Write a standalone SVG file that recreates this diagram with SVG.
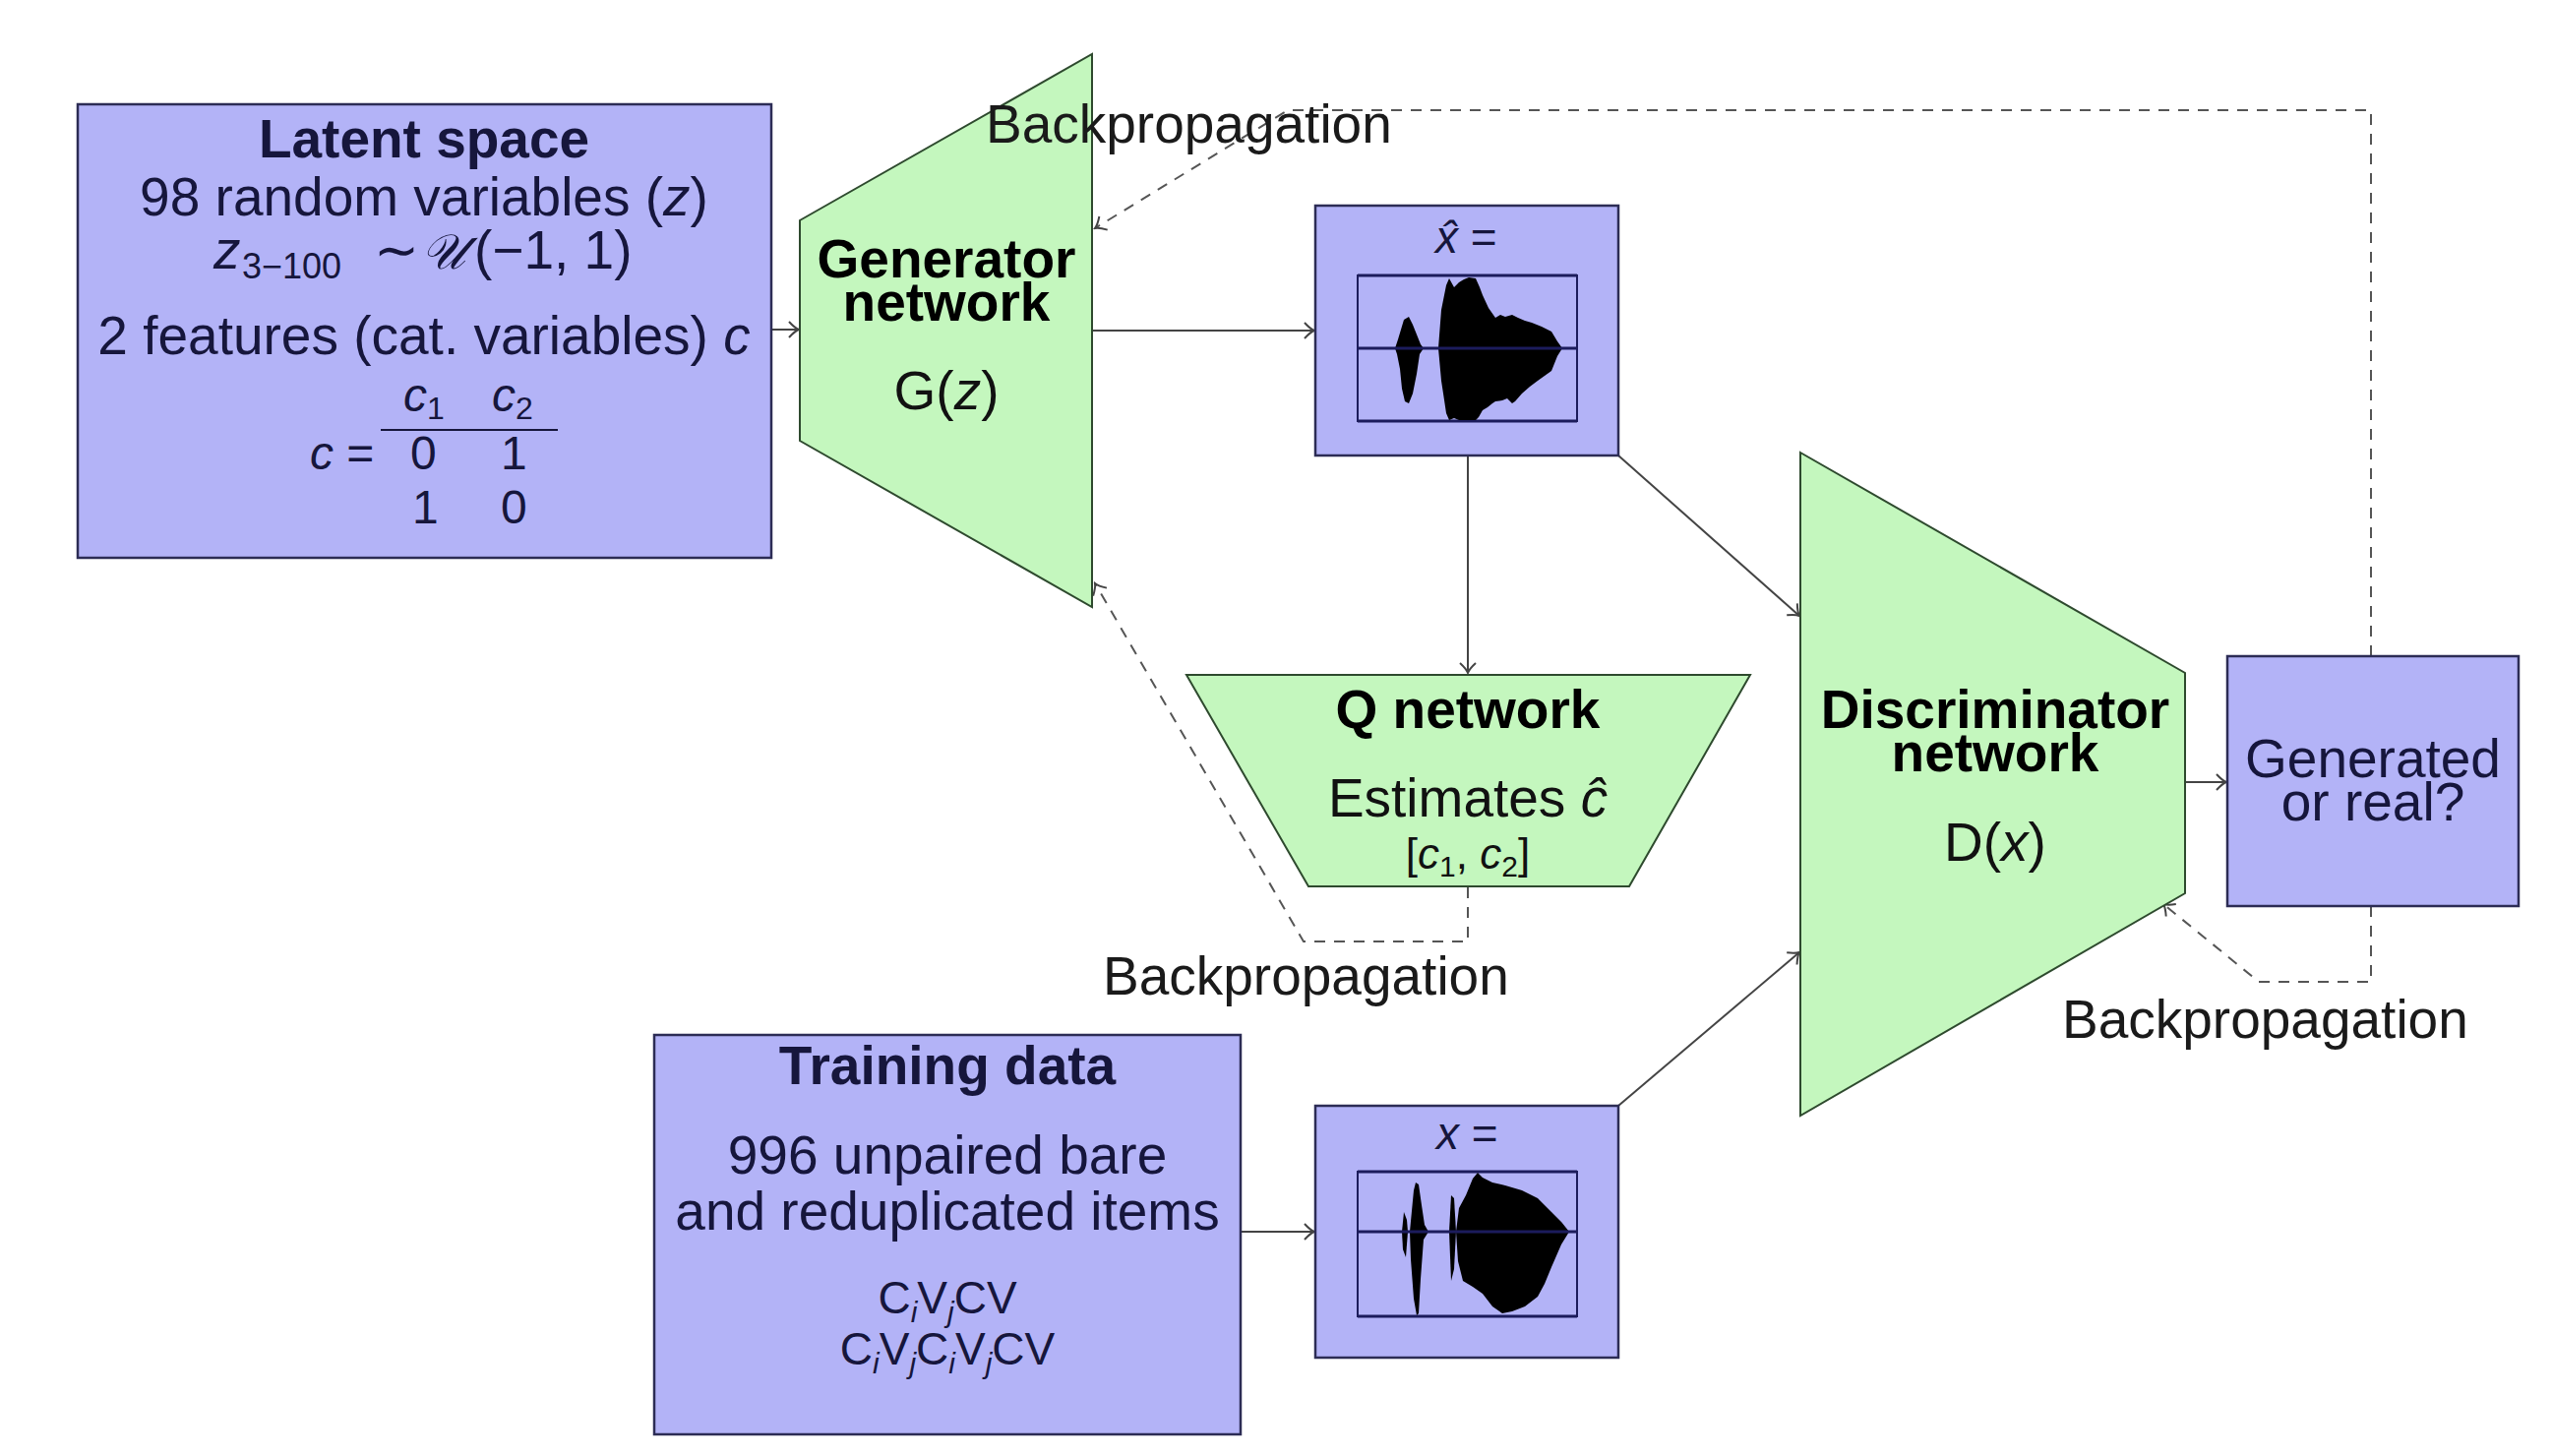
<svg xmlns="http://www.w3.org/2000/svg" width="2594" height="1480" viewBox="0 0 2594 1480">
<defs>
<marker id="arr" viewBox="-12 -10 14 20" refX="0" refY="0" markerWidth="14" markerHeight="20" markerUnits="userSpaceOnUse" orient="auto">
<path d="M -10 -8 Q -4 -1.5 0 0 Q -4 1.5 -10 8" fill="none" stroke="#444" stroke-width="2"/>
</marker>
</defs>
<style>
text{font-family:"Liberation Sans","DejaVu Sans",sans-serif;}
.box{fill:#b3b3f7;stroke:#2c2c55;stroke-width:2.5;}
.net{fill:#c4f7be;stroke:#2e4a2e;stroke-width:2;}
.t{font-size:55px;fill:#16163c;}
.tb{font-size:55px;font-weight:bold;fill:#16163c;}
.g{font-size:55px;fill:#111;}
.gb{font-size:55px;font-weight:bold;fill:#000;}
.m{font-size:48px;fill:#16163c;}
.i{font-style:italic;}
.sub{font-size:32px;}
.bp{font-size:55px;fill:#1a1a1a;}
.con{fill:none;stroke:#444;stroke-width:2;}
.dash{fill:none;stroke:#555;stroke-width:2;stroke-dasharray:11 9;}
.frame{fill:none;stroke:#1c1c5c;stroke-width:2;}
.axis{stroke:#1c1c5c;stroke-width:3;}
.wave{fill:#000;}
</style>
<rect width="2594" height="1480" fill="#fff"/>

<g id="connectors">
<line class="con" x1="784" y1="335" x2="812" y2="335" marker-end="url(#arr)"/>
<line class="con" x1="1110" y1="336" x2="1336" y2="336" marker-end="url(#arr)"/>
<line class="con" x1="1492" y1="463" x2="1492" y2="684" marker-end="url(#arr)"/>
<line class="con" x1="1645" y1="463" x2="1829" y2="626" marker-end="url(#arr)"/>
<line class="con" x1="1261" y1="1252" x2="1336" y2="1252" marker-end="url(#arr)"/>
<line class="con" x1="1645" y1="1124" x2="1829" y2="968" marker-end="url(#arr)"/>
<line class="con" x1="2221" y1="795" x2="2263" y2="795" marker-end="url(#arr)"/>
<polyline class="dash" points="2410,667 2410,112 1309,112 1113,232" marker-end="url(#arr)"/>
<polyline class="dash" points="1492,902 1492,957 1325,957 1113,593" marker-end="url(#arr)"/>
<polyline class="dash" points="2410,921 2410,998 2296,998 2199,919" marker-end="url(#arr)"/>
</g>

<g id="latent">
<rect class="box" x="79" y="106" width="705" height="461"/>
<text class="t" text-anchor="middle"><tspan class="tb" x="431" y="160">Latent space</tspan><tspan x="431" y="219">98 random variables (<tspan class="i">z</tspan>)</tspan></text>
<text class="t"><tspan class="i" x="217" y="273">z</tspan><tspan x="246" y="283" style="font-size:36px">3−100</tspan><tspan x="380" y="273">∼</tspan><tspan x="428" y="273" style="font-family:'DejaVu Serif','Liberation Serif',serif;font-style:italic;font-size:50px">𝒰</tspan><tspan x="482" y="273">(−1, 1)</tspan></text>
<text class="t" x="431" y="360" text-anchor="middle">2 features (cat. variables) <tspan class="i">c</tspan></text>
<text class="m"><tspan class="i" x="410" y="418">c</tspan><tspan class="sub" y="426">1</tspan><tspan class="i" x="500" y="418">c</tspan><tspan class="sub" y="426">2</tspan></text>
<line x1="387" y1="437" x2="567" y2="437" stroke="#16163c" stroke-width="2"/>
<text class="m"><tspan x="315" y="477"><tspan class="i">c</tspan> =</tspan><tspan x="417" y="477">0</tspan><tspan x="509" y="477">1</tspan></text>
<text class="m"><tspan x="419" y="532">1</tspan><tspan x="509" y="532">0</tspan></text>
</g>

<g id="generator">
<polygon class="net" points="813,224 1110,55 1110,617 813,448"/>
<text class="gb" text-anchor="middle"><tspan x="962" y="282">Generator</tspan><tspan x="962" y="326">network</tspan></text>
<text class="g" x="962" y="416" text-anchor="middle">G(<tspan class="i">z</tspan>)</text>
</g>

<g id="xhat">
<rect class="box" x="1337" y="209" width="308" height="254"/>
<text class="m" x="1459" y="257" style="font-size:46px"><tspan class="i">x̂</tspan> =</text>
<rect class="frame" x="1380" y="280" width="223" height="148"/>
<line class="axis" x1="1380" y1="280" x2="1603" y2="280"/>
<line class="axis" x1="1380" y1="428" x2="1603" y2="428"/>
<polygon class="wave" points="1418,354 1421,345 1424,335 1427,325 1432,322 1436,330 1440,340 1444,350 1447,354 1443,360 1440,380 1436,400 1432,410 1428,408 1425,395 1423,375 1420,360"/>
<polygon class="wave" points="1462,354 1465,315 1470,290 1473,283 1478,292 1483,287 1488,284 1493,282 1500,283 1504,292 1507,300 1513,313 1520,323 1525,320 1530,322 1537,320 1543,323 1550,326 1557,328 1567,332 1577,337 1583,347 1588,354 1583,362 1577,377 1570,382 1563,387 1555,393 1547,400 1540,408 1537,410 1532,405 1527,407 1520,408 1517,410 1512,414 1507,417 1503,424 1500,427 1490,427 1483,427 1478,425 1473,427 1470,420 1467,400 1465,387"/>
<line class="axis" x1="1380" y1="354" x2="1603" y2="354"/>
</g>

<g id="qnet">
<polygon class="net" points="1206,686 1779,686 1656,901 1330,901"/>
<text class="gb" x="1492" y="740" text-anchor="middle">Q network</text>
<text class="g" x="1492" y="830" text-anchor="middle">Estimates <tspan class="i">ĉ</tspan></text>
<text class="g" x="1492" y="883" text-anchor="middle" style="font-size:44px">[<tspan class="i">c</tspan><tspan dy="8" style="font-size:30px">1</tspan><tspan dy="-8">, </tspan><tspan class="i">c</tspan><tspan dy="8" style="font-size:30px">2</tspan><tspan dy="-8">]</tspan></text>
</g>

<g id="discriminator">
<polygon class="net" points="1830,460 2221,684 2221,908 1830,1134"/>
<text class="gb" text-anchor="middle"><tspan x="2028" y="740">Discriminator</tspan><tspan x="2028" y="784">network</tspan></text>
<text class="g" x="2028" y="875" text-anchor="middle">D(<tspan class="i">x</tspan>)</text>
</g>

<g id="output">
<rect class="box" x="2264" y="667" width="296" height="254"/>
<text class="t" text-anchor="middle"><tspan x="2412" y="790">Generated</tspan><tspan x="2412" y="834">or real?</tspan></text>
</g>

<g id="training">
<rect class="box" x="665" y="1052" width="596" height="406"/>
<text class="tb" x="963" y="1102" text-anchor="middle">Training data</text>
<text class="t" text-anchor="middle"><tspan x="963" y="1193">996 unpaired bare</tspan><tspan x="963" y="1250">and reduplicated items</tspan></text>
<text class="t" x="963" y="1335" text-anchor="middle" style="font-size:46px">C<tspan class="i" dy="9" style="font-size:30px">i</tspan><tspan dy="-9">V</tspan><tspan class="i" dy="9" style="font-size:30px">j</tspan><tspan dy="-9">CV</tspan></text>
<text class="t" x="963" y="1387" text-anchor="middle" style="font-size:46px">C<tspan class="i" dy="9" style="font-size:30px">i</tspan><tspan dy="-9">V</tspan><tspan class="i" dy="9" style="font-size:30px">j</tspan><tspan dy="-9">C</tspan><tspan class="i" dy="9" style="font-size:30px">i</tspan><tspan dy="-9">V</tspan><tspan class="i" dy="9" style="font-size:30px">j</tspan><tspan dy="-9">CV</tspan></text>
</g>

<g id="xreal">
<rect class="box" x="1337" y="1124" width="308" height="256"/>
<text class="m" x="1460" y="1168" style="font-size:46px"><tspan class="i">x</tspan> =</text>
<rect class="frame" x="1380" y="1191" width="223" height="147"/>
<line class="axis" x1="1380" y1="1191" x2="1603" y2="1191"/>
<line class="axis" x1="1380" y1="1338" x2="1603" y2="1338"/>
<polygon class="wave" points="1425,1252 1427,1232 1430,1240 1431,1252 1429,1278 1426,1270"/>
<polygon class="wave" points="1433,1252 1437,1210 1439,1202 1442,1204 1445,1225 1448,1245 1452,1252 1447,1260 1444,1300 1442,1335 1440,1337 1437,1320 1434,1280"/>
<polygon class="wave" points="1473,1252 1475,1215 1478,1218 1480,1252 1478,1290 1475,1302"/>
<polygon class="wave" points="1480,1252 1483,1228 1490,1215 1497,1198 1502,1192 1507,1197 1517,1202 1530,1205 1547,1210 1563,1218 1577,1232 1587,1242 1595,1252 1587,1265 1577,1288 1570,1305 1563,1318 1550,1328 1537,1333 1527,1335 1517,1328 1507,1315 1497,1308 1487,1302 1482,1282"/>
<line class="axis" x1="1380" y1="1252" x2="1603" y2="1252"/>
</g>

<g id="labels">
<text class="bp" x="1002" y="145">Backpropagation</text>
<text class="bp" x="1121" y="1011">Backpropagation</text>
<text class="bp" x="2096" y="1055">Backpropagation</text>
</g>
</svg>
